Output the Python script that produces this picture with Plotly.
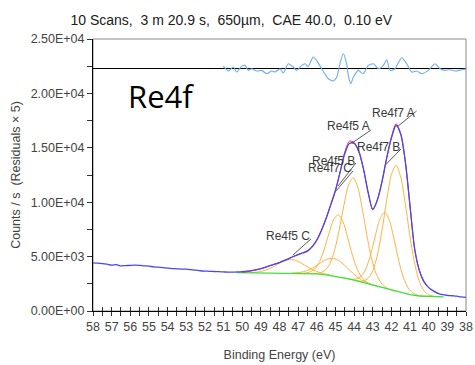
import plotly.graph_objects as go

# ---------------- data ----------------
env_x = [58.0, 57.75, 57.5, 57.25, 57.0, 56.75, 56.5, 56.25, 56.0, 55.75, 55.5, 55.25, 55.0,
         54.75, 54.5, 54.25, 54.0, 53.75, 53.5, 53.25, 53.0, 52.75, 52.5, 52.25, 52.0, 51.75,
         51.5, 51.25, 51.0, 50.75, 50.5, 50.25, 50.0, 49.75, 49.5, 49.25, 49.0, 48.75, 48.5,
         48.25, 48.0, 47.75, 47.5, 47.25, 47.0, 46.75, 46.5, 46.25, 46.0, 45.75, 45.5, 45.25,
         45.0, 44.75, 44.5, 44.25, 44.0, 43.75, 43.5, 43.25, 43.0, 42.75, 42.5, 42.25, 42.0,
         41.75, 41.5, 41.25, 41.0, 40.75, 40.5, 40.25, 40.0, 39.75, 39.5, 39.25, 39.0, 38.75,
         38.5, 38.25, 38.0]
env_y = [4430, 4400, 4360, 4300, 4220, 4260, 4150, 4170, 4200, 4210, 4190, 4150, 4120,
         4060, 4030, 3990, 3940, 3900, 3880, 3850, 3840, 3800, 3760, 3700, 3670, 3650,
         3630, 3610, 3590, 3570, 3570, 3590, 3620, 3660, 3720, 3800, 3900, 4030, 4170,
         4300, 4450, 4630, 4820, 5010, 5180, 5330, 5500, 5900, 6500, 7400, 8500, 9800,
         11100, 12750, 14450, 15400, 15400, 14700, 13100, 10900, 9350, 10200, 11900, 14100, 15900,
         17050, 16250, 13700, 9600, 5700, 3700, 2700, 2150, 1850, 1620, 1500, 1440, 1400,
         1360, 1300, 1260]

data_x = [50.0, 49.75, 49.5, 49.25, 49.0, 48.75, 48.5, 48.25, 48.0, 47.75, 47.5, 47.25, 47.0,
          46.75, 46.5, 46.25, 46.0, 45.75, 45.5, 45.25, 45.0, 44.75, 44.5, 44.25, 44.0, 43.75,
          43.5, 43.25, 43.0, 42.75, 42.5, 42.25, 42.0, 41.75, 41.5, 41.25, 41.0, 40.75, 40.5,
          40.25, 40.0, 39.75, 39.5]
data_y = [3560, 3600, 3690, 3770, 3880, 4020, 4180, 4320, 4470, 4650, 4800, 5030, 5200,
          5360, 5540, 5950, 6560, 7450, 8550, 9750, 11050, 12800, 14600, 15600, 15500, 14650,
          13050, 10950, 9300, 10250, 11950, 14050, 15950, 17200, 16300, 13650, 9650, 5650, 3750,
          2650, 2150, 1830, 1600]

bg_x = [50.3, 49.0, 48.0, 47.0, 46.0, 45.5, 45.0, 44.5, 44.0, 43.5, 43.0, 42.5, 42.0, 41.5,
        41.0, 40.5, 40.0, 39.5, 39.2]
bg_y = [3530, 3510, 3490, 3470, 3420, 3330, 3200, 3020, 2830, 2600, 2370, 2140, 1900, 1680,
        1500, 1380, 1320, 1300, 1290]

a7_x = [44.0, 43.75, 43.5, 43.25, 43.0, 42.75, 42.5, 42.25, 42.0, 41.75, 41.5, 41.25, 41.0,
        40.75, 40.5, 40.25, 40.0, 39.75, 39.5]
a7_y = [2840, 2760, 2765, 2995, 3690, 5145, 7450, 10220, 12540, 13390, 12320, 9790, 6810,
        4330, 2700, 1860, 1485, 1355, 1310]

a5_x = [46.3, 46.05, 45.8, 45.55, 45.3, 45.05, 44.8, 44.55, 44.3, 44.05, 43.8, 43.55, 43.3,
        43.05, 42.8, 42.55, 42.3, 42.05, 41.8]
a5_y = [3443, 3462, 3518, 3754, 4352, 5559, 7435, 9686, 11560, 12250, 11360, 9271, 6815,
        4736, 3352, 2579, 2178, 1962, 1818]

b7_x = [44.6, 44.35, 44.1, 43.85, 43.6, 43.35, 43.1, 42.85, 42.6, 42.35, 42.1, 41.85, 41.6,
        41.35, 41.1, 40.85, 40.6, 40.35, 40.1]
b7_y = [3062, 2972, 2923, 2954, 3226, 3951, 5271, 6997, 8520, 9070, 8285, 6532, 4581,
        3046, 2116, 1659, 1458, 1372, 1332]

b5_x = [47.1, 46.85, 46.6, 46.35, 46.1, 45.85, 45.6, 45.35, 45.1, 44.85, 44.6, 44.35, 44.1,
        43.85, 43.6, 43.35, 43.1, 42.85, 42.6]
b5_y = [3474, 3472, 3493, 3596, 3898, 4552, 5676, 7115, 8384, 8845, 8219, 6785, 5196,
        3917, 3118, 2688, 2458, 2310, 2187]

c7_x = [47.35, 47.1, 46.85, 46.6, 46.35, 46.1, 45.85, 45.6, 45.35, 45.1, 44.85, 44.6, 44.35,
        44.1, 43.85, 43.6, 43.35, 43.1, 42.85]
c7_y = [3495, 3518, 3568, 3666, 3836, 4083, 4366, 4632, 4804, 4825, 4659, 4342, 3931,
        3528, 3158, 2861, 2636, 2461, 2318]

c5_x = [49.65, 49.4, 49.15, 48.9, 48.65, 48.4, 48.15, 47.9, 47.65, 47.4, 47.15, 46.9, 46.65,
        46.4, 46.15, 45.9, 45.65, 45.4, 45.15]
c5_y = [3531, 3550, 3595, 3677, 3814, 4012, 4252, 4489, 4666, 4728, 4655, 4466, 4211,
        3954, 3739, 3574, 3443, 3341, 3254]

res_x = [51.01, 50.74, 50.48, 50.30, 50.03, 49.85, 49.67, 49.49, 49.22, 48.95, 48.69, 48.42,
         48.24, 47.97, 47.80, 47.53, 47.26, 47.08, 46.81, 46.63, 46.46, 46.19, 46.01, 45.74,
         45.38, 45.11, 44.93, 44.76, 44.58, 44.40, 44.31, 44.18, 44.04, 43.77, 43.51, 43.24,
         42.97, 42.70, 42.43, 42.25, 42.07, 41.81, 41.45, 41.18, 40.91, 40.64, 40.38, 40.02,
         39.66, 39.39, 39.13, 38.86, 38.59, 38.23, 38.0]
res_y = [184, -276, 92, -368, 153, 245, -214, -61, -276, -214, -521, -276,
         -368, -61, -460, 398, 92, -214, 245, 398, 153, 1011, 705, -61,
         -980, -1195, -827, 398, 1317, 398, -674, -1440, -827, -214, -521, 245,
         398, -61, 245, 766, -214, -61, 949, 398, -368, -276, -521, -214,
         398, -61, -214, -153, -276, -153, -100]
res_zero = 22330          # where the residual zero line sits on the counts scale

y_tick_vals = [0, 5000, 10000, 15000, 20000, 25000]
y_tick_text = ["0.00E+00", "5.00E+03", "1.00E+04", "1.50E+04", "2.00E+04", "2.50E+04"]
x_tick_vals = list(range(58, 37, -1))
x_tick_text = [str(v) for v in x_tick_vals]

labels = [  # text, text anchor (BE, counts), leader start (BE, counts), leader end (BE, counts)
    ("Re4f7 A", 40.73, 18240, 40.65, 18380, 41.70, 16910),
    ("Re4f7 B", 41.54, 15030, 41.49, 14890, 42.32, 13420),
    ("Re4f5 A", 43.15, 17000, 43.09, 16640, 44.11, 15440),
    ("Re4f5 B", 43.95, 13830, 43.90, 13600, 44.86, 11490),
    ("Re4f7 C", 44.11, 13140, 44.06, 12870, 44.97, 11030),
    ("Re4f5 C", 46.36, 6890, 46.31, 6620, 47.28, 5150),
]

# ---------------- figure ----------------
FONT = "Liberation Sans, Arial, sans-serif"
ORANGE = "#ffb23e"
fig = go.Figure()

for cx, cy in [(c5_x, c5_y), (c7_x, c7_y), (b5_x, b5_y), (a5_x, a5_y), (b7_x, b7_y), (a7_x, a7_y)]:
    fig.add_trace(go.Scatter(x=cx, y=cy, mode="lines", line=dict(color=ORANGE, width=1, shape="spline", smoothing=0.8),
                             hoverinfo="skip", showlegend=False))

fig.add_trace(go.Scatter(x=bg_x, y=bg_y, mode="lines", line=dict(color="#3ee03e", width=1.3),
                         showlegend=False))
fig.add_trace(go.Scatter(x=data_x, y=data_y, mode="lines", line=dict(color="#ff2020", width=1, shape="spline", smoothing=0.8),
                         showlegend=False))
fig.add_trace(go.Scatter(x=env_x, y=env_y, mode="lines", line=dict(color="#4848f2", width=1.3, shape="spline", smoothing=0.8),
                         showlegend=False))
fig.add_trace(go.Scatter(x=res_x, y=res_y, mode="lines", yaxis="y2",
                         line=dict(color="#6aaef2", width=1.1, shape="spline", smoothing=0.6),
                         showlegend=False))

# inner tick marks (ticks cross the axes)
fig.add_trace(go.Scatter(x=[58, 38], y=[None, None], xaxis="x2", showlegend=False, hoverinfo="skip"))

annotations = []
shapes = [dict(type="rect", xref="paper", yref="paper", x0=0, x1=1, y0=0, y1=1,
               line=dict(color="#8a8a8a", width=1), layer="below")]
for text, tx, ty, lx0, ly0, lx1, ly1 in labels:
    annotations.append(dict(x=tx, y=ty, xref="x", yref="y", text=text, showarrow=False,
                            xanchor="right", yanchor="middle", xshift=2,
                            font=dict(family=FONT, size=12, color="#3a3a3a")))
    shapes.append(dict(type="line", xref="x", yref="y", x0=lx0, y0=ly0, x1=lx1, y1=ly1,
                       line=dict(color="#5a5a5a", width=1)))

annotations.append(dict(x=0.182, y=0.79, xref="paper", yref="paper", text="Re4f", showarrow=False,
                        xanchor="center", yanchor="middle",
                        font=dict(family="Open Sans, sans-serif", size=31, color="#000000")))

fig.update_layout(
    width=475, height=365,
    margin=dict(l=93, r=9, t=39, b=54),
    paper_bgcolor="white", plot_bgcolor="white",
    title=dict(text="10 Scans,\u00a0\u00a03 m 20.9 s,\u00a0\u00a0650µm,\u00a0\u00a0CAE 40.0,\u00a0\u00a00.10 eV",
               x=0.487, xanchor="center", y=1 - 20 / 365, yanchor="middle",
               font=dict(family=FONT, size=14, color="#202020")),
    xaxis=dict(range=[58, 38], tickvals=x_tick_vals, ticktext=x_tick_text, automargin=False,
               ticks="outside", ticklen=4, tickcolor="#333", showline=True, linecolor="#000", linewidth=1,
               showgrid=False, zeroline=False,
               minor=dict(dtick=0.5, ticks="outside", ticklen=4, tickcolor="#333"),
               tickfont=dict(family=FONT, size=12.5, color="#444444"),
               title=dict(text="Binding Energy (eV)", standoff=17,
                          font=dict(family=FONT, size=12.5, color="#444444"))),
    xaxis2=dict(range=[58, 38], overlaying="x", anchor="y", side="bottom",
                tickmode="linear", tick0=38, dtick=0.5, ticks="inside", ticklen=4, tickcolor="#333",
                showticklabels=False, showline=False, showgrid=False, zeroline=False),
    yaxis=dict(range=[0, 25000], tickvals=y_tick_vals, ticktext=y_tick_text, automargin=False,
               ticks="outside", ticklen=5, tickcolor="#333", showline=True, linecolor="#000", linewidth=1,
               showgrid=False, zeroline=False,
               minor=dict(dtick=2500, ticks="outside", ticklen=5, tickcolor="#333"),
               tickfont=dict(family=FONT, size=12.5, color="#444444"),
               title=dict(text="Counts / s\u00a0\u00a0(Residuals × 5)", standoff=7,
                          font=dict(family=FONT, size=12.5, color="#444444"))),
    yaxis2=dict(range=[-res_zero, 25000 - res_zero], overlaying="y", anchor="x",
                showticklabels=False, ticks="", showline=False, showgrid=False,
                zeroline=True, zerolinecolor="#000", zerolinewidth=1),
    shapes=shapes,
    annotations=annotations,
)

fig.write_html("out.html")
